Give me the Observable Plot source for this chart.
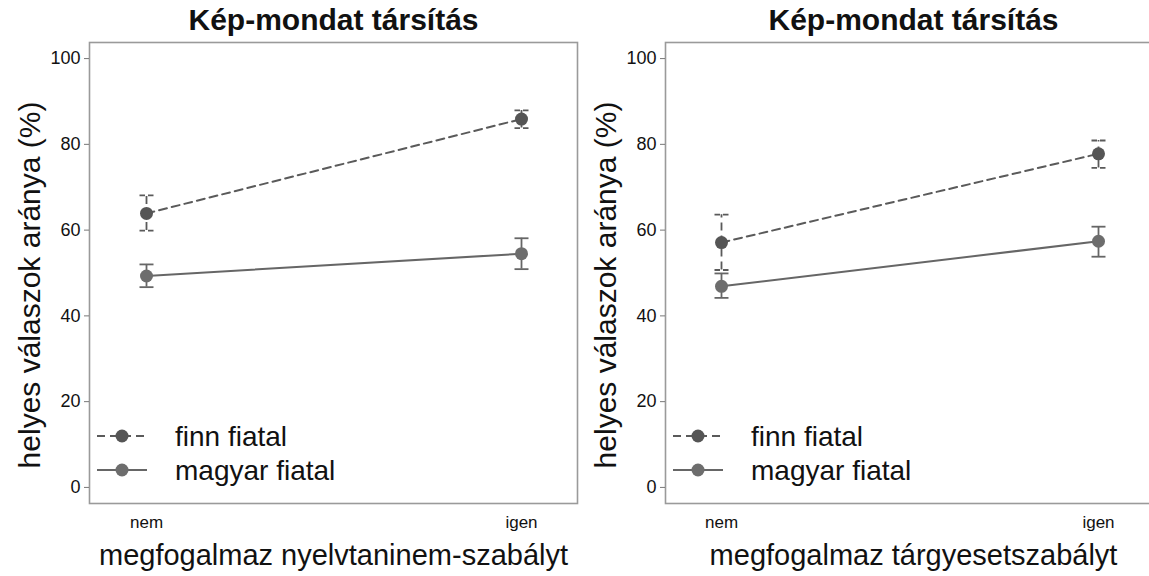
<!DOCTYPE html>
<html>
<head>
<meta charset="utf-8">
<script src="https://cdn.jsdelivr.net/npm/d3@7"></script>
<script src="https://cdn.jsdelivr.net/npm/@observablehq/plot@0.6"></script>
<style>
  html, body { margin: 0; padding: 0; background: #fff; overflow: hidden; }
  body { width: 1149px; height: 576px; position: relative; font-family: "Liberation Sans", Arial, sans-serif; }
  .panel { position: absolute; top: 0; height: 576px; overflow: hidden; }
  .panel svg { max-width: none !important; }
</style>
</head>
<body>
<div id="left" class="panel" style="left:0px; width:580px"></div>
<div id="right" class="panel" style="left:580px; width:569px"></div>
<script>
// ---- data ----
const categories = ["nem", "igen"];
const groups = ["finn fiatal", "magyar fiatal"];
const panelTitles = ["Kép-mondat társítás", "Kép-mondat társítás"];
const xTitles = ["megfogalmaz nyelvtaninem-szabályt", "megfogalmaz tárgyesetszabályt"];
const yTitle = "helyes válaszok aránya (%)";
const yTicks = [0, 20, 40, 60, 80, 100];

// left panel
const finnLeft = [63.9, 85.9];
const finnLeftLo = [59.9, 83.8];
const finnLeftHi = [68.1, 87.9];
const magyarLeft = [49.3, 54.5];
const magyarLeftLo = [46.7, 50.9];
const magyarLeftHi = [52.0, 58.1];

// right panel
const finnRight = [57.1, 77.8];
const finnRightLo = [50.7, 74.5];
const finnRightHi = [63.6, 80.9];
const magyarRight = [46.9, 57.4];
const magyarRightLo = [44.2, 53.8];
const magyarRightHi = [49.9, 60.8];

// ---- styles ----
const style = {
  "finn fiatal": {dot: "#555", line: "#5a5a5a", dash: "8,5", capDash: "5.5,3"},
  "magyar fiatal": {dot: "#6d6d6d", line: "#666", dash: null, capDash: null}
};
const FONT = "Liberation Sans, Arial, sans-serif";

// horizontal cap symbol for error bars
const capSymbol = {
  draw(context) {
    context.moveTo(-7, 0);
    context.lineTo(7, 0);
  }
};

function buildRows(finn, finnLo, finnHi, mag, magLo, magHi) {
  const rows = [];
  categories.forEach((c, i) => {
    rows.push({cat: c, group: groups[0], v: finn[i], lo: finnLo[i], hi: finnHi[i]});
    rows.push({cat: c, group: groups[1], v: mag[i], lo: magLo[i], hi: magHi[i]});
  });
  return rows;
}

function legendMark(index, scales, values, dimensions) {
  const g = d3.create("svg:g");
  const x0 = dimensions.marginLeft;
  const yb = dimensions.height - dimensions.marginBottom;
  groups.forEach((gname, i) => {
    const s = style[gname];
    const y = yb - 67 + i * 34;
    const ln = g.append("line")
      .attr("x1", x0 + 8).attr("x2", x0 + 58)
      .attr("y1", y).attr("y2", y)
      .attr("stroke", s.line).attr("stroke-width", 2);
    if (s.dash) ln.attr("stroke-dasharray", s.dash);
    g.append("circle").attr("cx", x0 + 33).attr("cy", y).attr("r", 6.5).attr("fill", s.dot);
    g.append("text").attr("x", x0 + 86).attr("y", y).attr("dy", "0.36em")
      .attr("text-anchor", "start")
      .attr("font-size", 28).attr("font-family", FONT).attr("fill", "#111").text(gname);
  });
  return g.node();
}

// opts.range / opts.shift: used by the right panel, whose frame runs past the picture's edge
function panel(rows, title, xTitle, marginLeft, marginRight, width, opts = {}) {
  const marks = [];
  groups.forEach(gname => {
    const s = style[gname];
    const d = rows.filter(r => r.group === gname);
    const dashOpt = s.dash ? {strokeDasharray: s.dash} : {};
    const capOpt = s.capDash ? {strokeDasharray: s.capDash} : {};
    marks.push(Plot.line(d, {x: "cat", y: "v", stroke: s.line, strokeWidth: 2, ...dashOpt}));
    marks.push(Plot.ruleX(d, {x: "cat", y1: "lo", y2: "hi", stroke: s.line, strokeWidth: 1.8, ...dashOpt}));
    marks.push(Plot.dot(d, {x: "cat", y: "lo", symbol: capSymbol, fill: "none", stroke: s.line, strokeWidth: 1.8, ...capOpt}));
    marks.push(Plot.dot(d, {x: "cat", y: "hi", symbol: capSymbol, fill: "none", stroke: s.line, strokeWidth: 1.8, ...capOpt}));
    marks.push(Plot.dot(d, {x: "cat", y: "v", r: 6.5, fill: s.dot, stroke: "none"}));
  });
  const xOpt = opts.range
    ? {type: "point", domain: categories, range: opts.range, padding: 0}
    : {type: "point", domain: categories, padding: 0.149};
  const shift = opts.shift || 0;
  return Plot.plot({
    width: width,
    height: 576,
    marginLeft: marginLeft,
    marginRight: marginRight,
    marginTop: 42,
    marginBottom: 73,
    style: {background: "transparent", fontFamily: FONT, maxWidth: "none"},
    x: xOpt,
    y: {domain: [-3.75, 103.75]},
    marks: [
      Plot.frame({stroke: "#9a9a9a", strokeWidth: 1.6}),
      Plot.axisY({ticks: yTicks, tickSize: 5, tickPadding: 4, fontSize: 18, label: null, stroke: "#777", fill: "#111"}),
      Plot.axisX({tickSize: 0, tickPadding: 12, fontSize: 17, label: null, fill: "#111"}),
      Plot.text([title], {frameAnchor: "top", lineAnchor: "middle", textAnchor: "middle", dx: shift, dy: -22, fontSize: 30, fontWeight: "bold", fill: "#111", text: d => d}),
      Plot.text([xTitle], {frameAnchor: "bottom", lineAnchor: "middle", textAnchor: "middle", dx: shift, dy: 52, fontSize: 29, fill: "#111", text: d => d}),
      Plot.text([yTitle], {frameAnchor: "left", lineAnchor: "middle", textAnchor: "middle", dx: -59, dy: 12, rotate: -90, fontSize: 30, fill: "#111", text: d => d}),
      ...marks,
      legendMark
    ]
  });
}

const leftRows = buildRows(finnLeft, finnLeftLo, finnLeftHi, magyarLeft, magyarLeftLo, magyarLeftHi);
const rightRows = buildRows(finnRight, finnRightLo, finnRightHi, magyarRight, magyarRightLo, magyarRightHi);

document.getElementById("left").appendChild(panel(leftRows, panelTitles[0], xTitles[0], 89, 3, 580));
document.getElementById("right").appendChild(panel(rightRows, panelTitles[1], xTitles[1], 85, 3, 640, {range: [141, 518], shift: -28}));
</script>
</body>
</html>
